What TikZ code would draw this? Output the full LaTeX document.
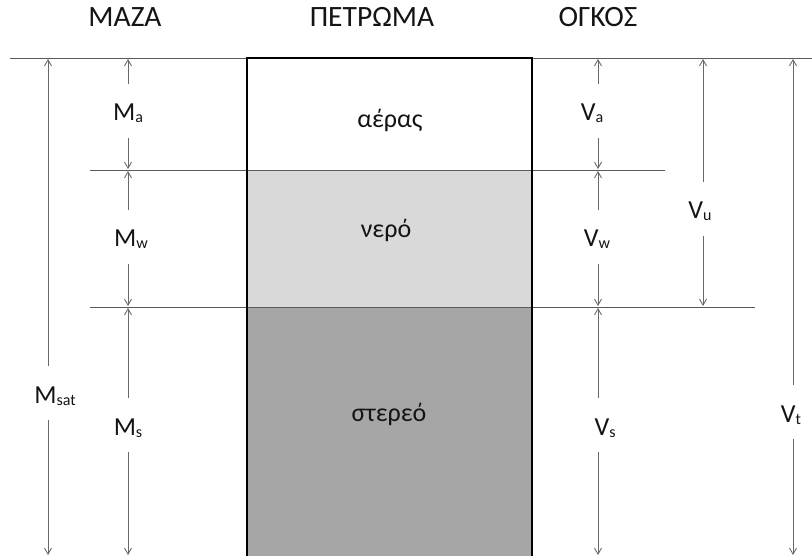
\documentclass[tikz,border=0pt]{standalone}
\usepackage{fontspec}
\setmainfont{Carlito}
\usetikzlibrary{arrows.meta}
\definecolor{linegray}{RGB}{90,90,90}
\definecolor{arrowgray}{RGB}{105,105,105}
\definecolor{watergray}{RGB}{217,217,217}
\definecolor{solidgray}{RGB}{166,166,166}
\definecolor{ink}{RGB}{20,20,20}
% small lowered index used in the quantity labels
\newcommand\lowsub[1]{\raisebox{-2pt}{\fontsize{16}{16}\selectfont #1}}

\begin{document}
\begin{tikzpicture}[x=1pt,y=-1pt,
  txt/.style={font=\fontsize{26}{30}\selectfont, text=ink, inner sep=0pt},
  head/.style={txt, anchor=base},
  title/.style={head, font=\fontsize{29.5}{32}\selectfont},
  qty/.style={txt, anchor=base, text height=37pt, text depth=17pt},
  dim/.style={draw=arrowgray, line width=0.9pt,
    -{Straight Barb[length=6pt,width=7pt]}, shorten >=1pt},
  level/.style={draw=linegray, line width=0.9pt}]
\useasboundingbox (0,0) rectangle (812,556);

% soil column: air, water, solid
\fill[watergray] (247,170) rectangle (532,307);
\fill[solidgray] (247,307) rectangle (532,560);

% level lines
\draw[level] (10,58) -- (812,58);
\draw[level] (90,170) -- (665,170);
\draw[level] (90,307) -- (755,307);

% column outline
\draw[black, line width=2pt] (247,560) -- (247,58) -- (532,58) -- (532,560);

% headings
\node[title] (hmass) at (125,27) {ΜΑΖΑ};
\node[title] (hrock) at (372,27) {ΠΕΤΡΩΜΑ};
\node[title] (hvol)  at (598,27) {ΟΓΚΟΣ};

% phase names
\node[head] (air)   at (390,128) {αέρας};
\node[head] (water) at (386,238) {νερό};
\node[head] (solid) at (389,421) {στερεό};

% arrow end points
\coordinate (msatT) at (48,58);  \coordinate (msatB) at (48,556);
\coordinate (mT) at (128,58);    \coordinate (m1) at (128,170);
\coordinate (m2) at (128,307);   \coordinate (mB) at (128,556);
\coordinate (vT) at (598,58);    \coordinate (v1) at (598,170);
\coordinate (v2) at (598,307);   \coordinate (vB) at (598,556);
\coordinate (vuT) at (703,58);   \coordinate (vuB) at (703,307);
\coordinate (vtT) at (793,58);   \coordinate (vtB) at (793,556);

% quantity labels
\node[qty] (msat) at (55,403)  {M\lowsub{sat}};
\node[qty] (ma)   at (128,121) {M\lowsub{a}};
\node[qty] (mw)   at (131,247) {M\lowsub{w}};
\node[qty] (ms)   at (128,435) {M\lowsub{s}};
\node[qty] (va)   at (592,121) {V\lowsub{a}};
\node[qty] (vw)   at (597,247) {V\lowsub{w}};
\node[qty] (vs)   at (605,435) {V\lowsub{s}};
\node[qty] (vu)   at (700,219) {V\lowsub{u}};
\node[qty] (vt)   at (791,422) {V\lowsub{t}};

% dimension arrows
\draw[dim] (msat.north -| msatT) -- (msatT);
\draw[dim] (msat.south -| msatB) -- (msatB);
\draw[dim] (ma.north -| mT) -- (mT);
\draw[dim] (ma.south -| m1) -- (m1);
\draw[dim] (mw.north -| m1) -- (m1);
\draw[dim] (mw.south -| m2) -- (m2);
\draw[dim] (ms.north -| m2) -- (m2);
\draw[dim] (ms.south -| mB) -- (mB);
\draw[dim] (va.north -| vT) -- (vT);
\draw[dim] (va.south -| v1) -- (v1);
\draw[dim] (vw.north -| v1) -- (v1);
\draw[dim] (vw.south -| v2) -- (v2);
\draw[dim] (vs.north -| v2) -- (v2);
\draw[dim] (vs.south -| vB) -- (vB);
\draw[dim] (vu.north -| vuT) -- (vuT);
\draw[dim] (vu.south -| vuB) -- (vuB);
\draw[dim] (vt.north -| vtT) -- (vtT);
\draw[dim] (vt.south -| vtB) -- (vtB);
\end{tikzpicture}
\end{document}
